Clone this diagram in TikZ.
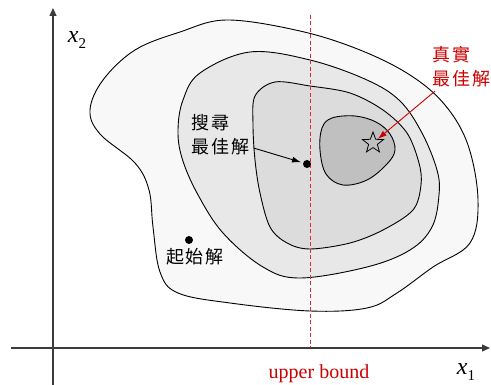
\documentclass[tikz,border=0pt]{standalone}
\usepackage{fontspec}
\setmainfont{Liberation Serif}
\newfontfamily\cjk{Noto Sans CJK TC}
\usetikzlibrary{arrows.meta,shapes.geometric,calc}
\definecolor{myred}{RGB}{204,0,0}
\definecolor{dashred}{RGB}{228,40,45}
\definecolor{lvA}{RGB}{248,248,248}
\definecolor{lvB}{RGB}{232,232,232}
\definecolor{lvC}{RGB}{220,220,220}
\definecolor{lvD}{RGB}{192,192,192}
\definecolor{axisgray}{RGB}{60,60,60}
\tikzset{
  contour/.style={draw=black, line width=0.9pt},
  axisline/.style={draw=axisgray, line width=1.1pt, -{Triangle[length=8pt,width=7pt]}},
  soln/.style={circle, fill=black, inner sep=0pt, minimum size=8pt},
  cjktext/.style={font=\cjk\fontsize{18}{24}\selectfont, inner sep=0pt, align=left},
  axislabel/.style={font=\fontsize{24}{24}\selectfont, inner sep=0pt},
  ptr/.style={line width=0.9pt, -{Latex[length=9pt,width=6pt]}}
}
\begin{document}
\begin{tikzpicture}[x=1pt,y=-1pt]
\path[use as bounding box, fill=white] (0,0) rectangle (491,385);
% contours
\path[contour, fill=lvA] plot[smooth cycle, tension=0.6] coordinates {
 (227,20) (300,31) (360,50) (410,75) (445,105) (468,145) (478,200) (470,243)
 (433,267) (397,293) (367,308) (310,311) (230,303) (178,293) (160,272) (153,227)
 (149,190) (135,163) (100,134) (90,110) (103,80) (135,50) (180,32)};
\path[contour, fill=lvB] plot[smooth cycle, tension=0.6] coordinates {
 (250,52) (310,60) (367,80) (400,101) (422,133) (437,170) (439,195) (432,227)
 (410,250) (367,267) (300,278) (263,267) (223,233) (197,193) (182,158) (178,130)
 (183,100) (200,73)};
\path[contour, fill=lvC] plot[smooth cycle, tension=0.55] coordinates {
 (275,82) (310,86) (350,93) (383,110) (407,133) (419,163) (421,185) (413,210)
 (383,230) (350,243) (310,249) (287,243) (270,227) (260,193) (255,160) (253,125)
 (255,96)};
\path[contour, fill=lvD] plot[smooth cycle, tension=0.6] coordinates {
 (332,118) (355,116) (376,122) (390,134) (395,150) (387,164) (367,180) (343,185)
 (326,174) (320,150) (322,128)};
% upper bound line
\coordinate (ubtop) at (310,15);
\coordinate (ubbot) at (310,348);
\draw[dashred, line width=0.9pt, dash pattern=on 4pt off 2.5pt] (ubtop) -- (ubbot);
% axes
\coordinate (xs) at (11,348);
\coordinate (xe) at (490,348);
\coordinate (ys) at (53,385);
\coordinate (ye) at (53,8);
\draw[axisline] (xs) -- (xe);
\draw[axisline] (ys) -- (ye);
\node[axislabel] (xtwo) at (77,40) {\itshape x\raisebox{-6pt}{\upshape\fontsize{15}{15}\selectfont 2}};
\node[axislabel] (xone) at (466,372) {\itshape x\raisebox{-6pt}{\upshape\fontsize{15}{15}\selectfont 1}};
\node[font=\fontsize{20}{20}\selectfont, text=myred, inner sep=0pt] (ub) at (319,374) {upper bound};
% star and points
\node[star, star points=5, star point ratio=2.4, minimum size=22pt, inner sep=0pt, draw=black, line width=0.8pt] (best) at (373,143) {};
\node[soln] (cur) at (307,164) {};
\node[soln] (init) at (189,240) {};
% texts
\node[cjktext, text=myred, anchor=north west] (truebest) at (432,46) {真\hspace{2pt}實\\最\hspace{2pt}佳\hspace{2pt}解};
\node[cjktext, text=black, anchor=north west] (search) at (191,114) {搜\hspace{2pt}尋\\最\hspace{2pt}佳\hspace{2pt}解};
\node[cjktext, text=black] (inittext) at (195,257) {起\hspace{2pt}始\hspace{2pt}解};
% pointers
\draw[ptr, myred] ([xshift=3pt,yshift=-4pt]truebest.south west) -- (best);
\draw[ptr, black, shorten >=2pt] ([xshift=4pt,yshift=7pt]search.south east) -- (cur);
\end{tikzpicture}
\end{document}
